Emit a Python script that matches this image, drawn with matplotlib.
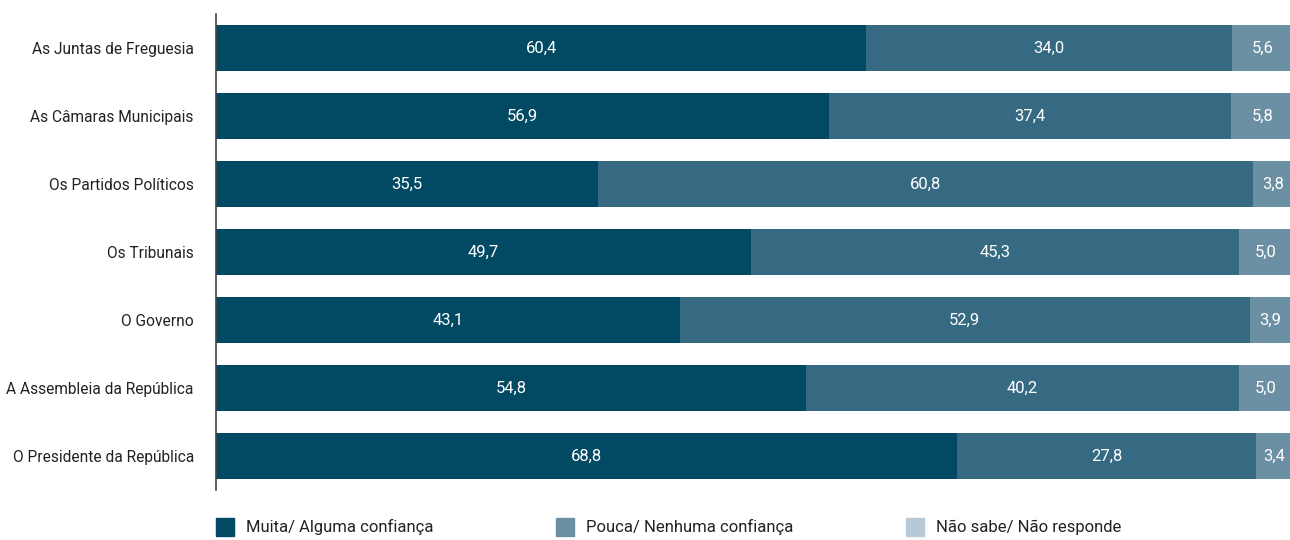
import matplotlib.pyplot as plt
from matplotlib.patches import Rectangle

plt.rcParams["font.family"] = ["Roboto", "DejaVu Sans"]

categorias = ["As Juntas de Freguesia", "As Câmaras Municipais", "Os Partidos Políticos",
              "Os Tribunais", "O Governo", "A Assembleia da República",
              "O Presidente da República"]
muita = [60.4, 56.9, 35.5, 49.7, 43.1, 54.8, 68.8]
pouca = [34.0, 37.4, 60.8, 45.3, 52.9, 40.2, 27.8]
nao_sabe = [5.6, 5.8, 3.8, 5.0, 3.9, 5.0, 3.4]
series = ["Muita/ Alguma confiança", "Pouca/ Nenhuma confiança", "Não sabe/ Não responde"]

cores_barras = ["#024a63", "#356a82", "#6b8fa3"]
cores_legenda = ["#024a63", "#6b8fa3", "#b8c8d4"]

fig = plt.figure(figsize=(12.9, 5.4), dpi=100)
ax = fig.add_axes([216 / 1290, 1 - 490 / 540, 1 - 216 / 1290, 476 / 540])

y = list(range(len(categorias)))
left = [0.0] * len(categorias)
for vals, cor in zip([muita, pouca, nao_sabe], cores_barras):
    bars = ax.barh(y, vals, left=left, height=0.675, color=cor)
    for b, v in zip(bars, vals):
        ax.text(b.get_x() + b.get_width() / 2, b.get_y() + b.get_height() / 2,
                f"{v:.1f}".replace(".", ","), color="white", ha="center", va="center",
                fontsize=12)
    left = [l + v for l, v in zip(left, vals)]

ax.set_xlim(0, 99.75)
ax.set_ylim(6.5, -0.5)
ax.set_yticks(y)
ax.set_yticklabels(categorias, fontsize=11.2, color="#222222")
ax.tick_params(axis="y", length=0, pad=16)
ax.set_xticks([])
for s in ["top", "right", "bottom"]:
    ax.spines[s].set_visible(False)
ax.spines["left"].set_color("#444444")
ax.spines["left"].set_linewidth(1.2)

# legenda
pos_x = [216, 556, 906]
for px, cor, nome in zip(pos_x, cores_legenda, series):
    fig.add_artist(Rectangle((px / 1290, 1 - 536 / 540), 18 / 1290, 18 / 540,
                             transform=fig.transFigure, color=cor))
    fig.text((px + 30) / 1290, 1 - 527 / 540, nome, fontsize=12, color="#222222",
             va="center", ha="left")

fig.savefig("out.png", dpi=100)
